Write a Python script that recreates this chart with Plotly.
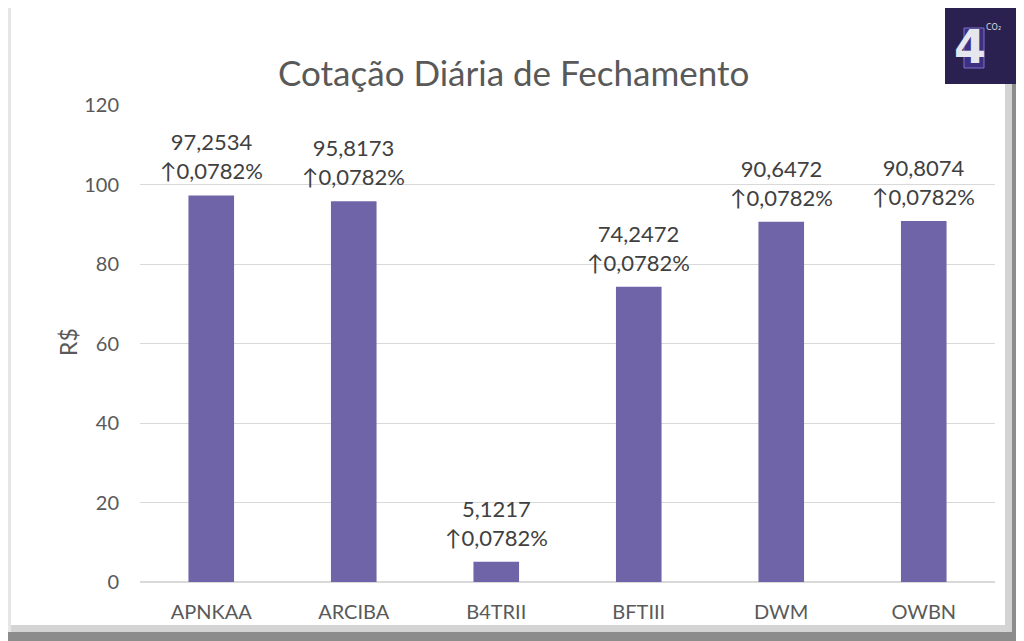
import plotly.graph_objects as go

# the page body adds an 8px margin, so the figure is drawn 8px in from the corner
OFF = 8
W, H = 1024 - OFF, 641 - OFF

tickers = ["APNKAA", "ARCIBA", "B4TRII", "BFTIII", "DWM", "OWBN"]
closing = [97.2534, 95.8173, 5.1217, 74.2472, 90.6472, 90.8074]
change_pct = [0.0782, 0.0782, 0.0782, 0.0782, 0.0782, 0.0782]
y_ticks = [0, 20, 40, 60, 80, 100, 120]

FONT = "Lato"
BAR_COLOR = "#7064A8"


def fx(px):
    return (px - OFF) / W


def fy(py):
    return 1 - (py - OFF) / H


def br(v, digits=4):
    return f"{v:.{digits}f}".replace(".", ",")


labels = [f"{br(v)}<br>\u2191{br(c)}%" for v, c in zip(closing, change_pct)]

fig = go.Figure()
fig.add_trace(go.Bar(
    x=tickers,
    y=closing,
    marker=dict(color=BAR_COLOR, line=dict(width=0)),
    hoverinfo="x+y",
))

for t, v, lab in zip(tickers, closing, labels):
    fig.add_annotation(
        x=t, y=v, xref="x", yref="y", text=lab, showarrow=False,
        yanchor="bottom", yshift=9,
        font=dict(family=FONT, size=22, color="#404040"),
    )

# frame around the chart (bevel / shadow look)
frame = [
    (0, 0, W + OFF, 4, "#e2e2e2"),
    (0, 0, 11, H + OFF, "#e6e6e6"),
    (1005, 4, 1012, 632, "#d4d4d4"),
    (11, 625, 1012, 632, "#d4d4d4"),
    (1012, 6, W + OFF, H + OFF, "#8c8c8c"),
    (8, 632, W + OFF, H + OFF, "#8c8c8c"),
]
shapes = []
for x0, y0, x1, y1, col in frame:
    shapes.append(dict(type="rect", xref="paper", yref="paper",
                       x0=fx(x0), x1=fx(x1), y0=fy(y1), y1=fy(y0),
                       fillcolor=col, line=dict(width=0), layer="below"))

# logo block in the top right corner
shapes.append(dict(type="rect", xref="paper", yref="paper",
                   x0=fx(945), x1=fx(1018), y0=fy(84), y1=fy(3),
                   fillcolor="#2b2150", line=dict(width=0), layer="above"))
shapes.append(dict(type="rect", xref="paper", yref="paper",
                   x0=fx(964), x1=fx(984), y0=fy(68), y1=fy(28),
                   fillcolor="rgba(80,60,170,0.55)", line=dict(width=1, color="#7d72c8"),
                   layer="above"))

fig.add_annotation(x=fx(988), y=fy(47), xref="paper", yref="paper", text="<b>4</b>",
                   showarrow=False, yanchor="middle",
                   font=dict(family="DejaVu Sans", size=46, color="#e6e6ee"))
fig.add_annotation(x=fx(1003), y=fy(21), xref="paper", yref="paper", text="CO\u2082",
                   showarrow=False, font=dict(family="DejaVu Sans", size=8, color="#dddddd"))

fig.add_annotation(x=fx(513), y=fy(49), xref="paper", yref="paper",
                   text="Cotação Diária de Fechamento", showarrow=False,
                   font=dict(family=FONT, size=35, color="#595959"))
fig.add_annotation(x=fx(52), y=fy(342), xref="paper", yref="paper", text="R$",
                   showarrow=False, textangle=-90,
                   font=dict(family=FONT, size=23, color="#595959"))

fig.update_layout(
    width=W, height=H,
    template="none",
    margin=dict(l=0, r=0, t=0, b=0),
    paper_bgcolor="white",
    plot_bgcolor="rgba(0,0,0,0)",
    showlegend=False,
    bargap=0.68,
    shapes=shapes,
    xaxis=dict(
        domain=[fx(140), fx(995)],
        showgrid=False, showline=False, zeroline=False,
        ticks="", ticklabelstandoff=16, automargin=False,
        tickfont=dict(family=FONT, size=20, color="#595959"),
    ),
    yaxis=dict(
        domain=[fy(582), fy(105)],
        range=[0, 120], tickvals=y_ticks,
        showgrid=True, gridcolor="#d9d9d9", gridwidth=1,
        zeroline=True, zerolinecolor="#d9d9d9", zerolinewidth=1.5,
        showline=False, ticks="", ticklabelstandoff=20, automargin=False,
        tickfont=dict(family=FONT, size=20, color="#595959"),
    ),
)

fig.write_html("out.html")
